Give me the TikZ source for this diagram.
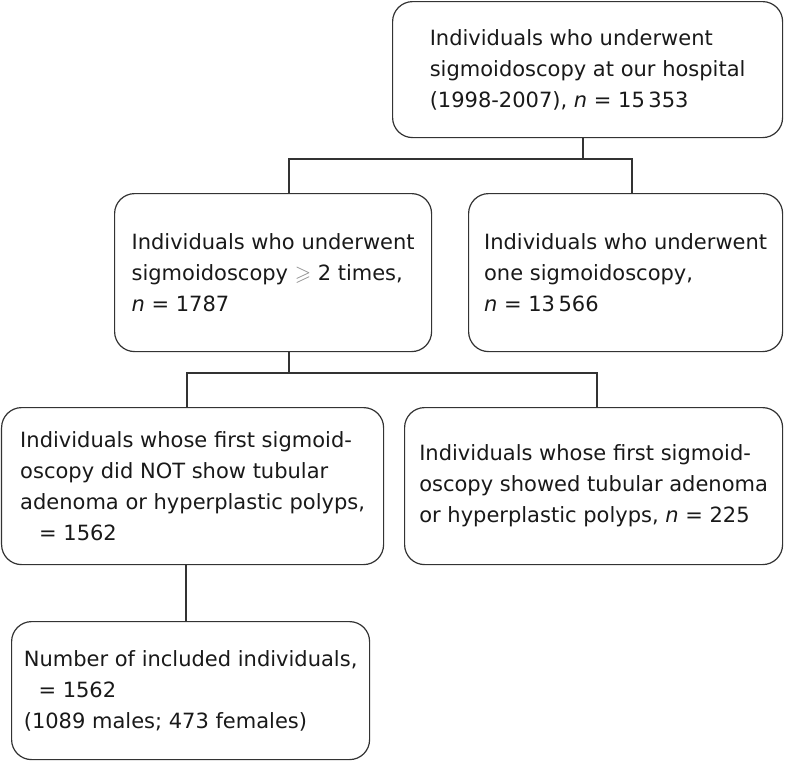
\documentclass[tikz,border=0pt]{standalone}
\usepackage{amssymb}
\usepackage{fontspec}
\setmainfont{DejaVu Sans}
\begin{document}
\begin{tikzpicture}[x=1pt,y=-1pt,
  box/.style={draw=black!80, line width=1.2pt, rounded corners=20pt, align=left,
    font=\fontsize{21}{31}\selectfont, text=black!90, inner sep=0pt, anchor=north west},
  link/.style={draw=black!80, line width=1.1pt}]
\useasboundingbox (0,0) rectangle (787,761);
\node[box, minimum width=390pt, minimum height=136pt] (b1) at (392,1)
  {Individuals who underwent\\sigmoidoscopy at our hospital\\(1998-2007), \textit{n} = 15\,353};
\node[box, minimum width=317pt, minimum height=158pt] (b2) at (114,193)
  {Individuals who underwent\\sigmoidoscopy \textcolor{black!45}{$\geqslant$} 2 times,\\\textit{n} = 1787};
\node[box, minimum width=314pt, minimum height=158pt] (b3) at (468,193)
  {Individuals who underwent\\one sigmoidoscopy,\\\textit{n} = 13\,566};
\node[box, minimum width=382pt, minimum height=157pt] (b4) at (1,407)
  {Individuals whose first sigmoid-\\oscopy did NOT show tubular\\adenoma or hyperplastic polyps,\\\hspace*{0.9em}= 1562};
\node[box, minimum width=378pt, minimum height=157pt] (b5) at (404,407)
  {Individuals whose first sigmoid-\\oscopy showed tubular adenoma\\or hyperplastic polyps, \textit{n} = 225};
\node[box, minimum width=358pt, minimum height=138pt] (b6) at (11,621)
  {Number of included individuals,\\\hspace*{0.7em}= 1562\\(1089 males; 473 females)};
\coordinate (j1) at (583,159);
\coordinate (l1) at (289,159);
\coordinate (r1) at (632,159);
\coordinate (j2) at (289,373);
\coordinate (l2) at (187,373);
\coordinate (r2) at (597,373);
\coordinate (j3) at (186,600);
\draw[link] (b1.south -| j1) -- (j1);
\draw[link] (b2.north -| l1) -- (l1) -- (r1) -- (b3.north -| r1);
\draw[link] (b2.south -| j2) -- (j2);
\draw[link] (b4.north -| l2) -- (l2) -- (r2) -- (b5.north -| r2);
\draw[link] (b4.south -| j3) -- (b6.north -| j3);
\end{tikzpicture}
\end{document}
